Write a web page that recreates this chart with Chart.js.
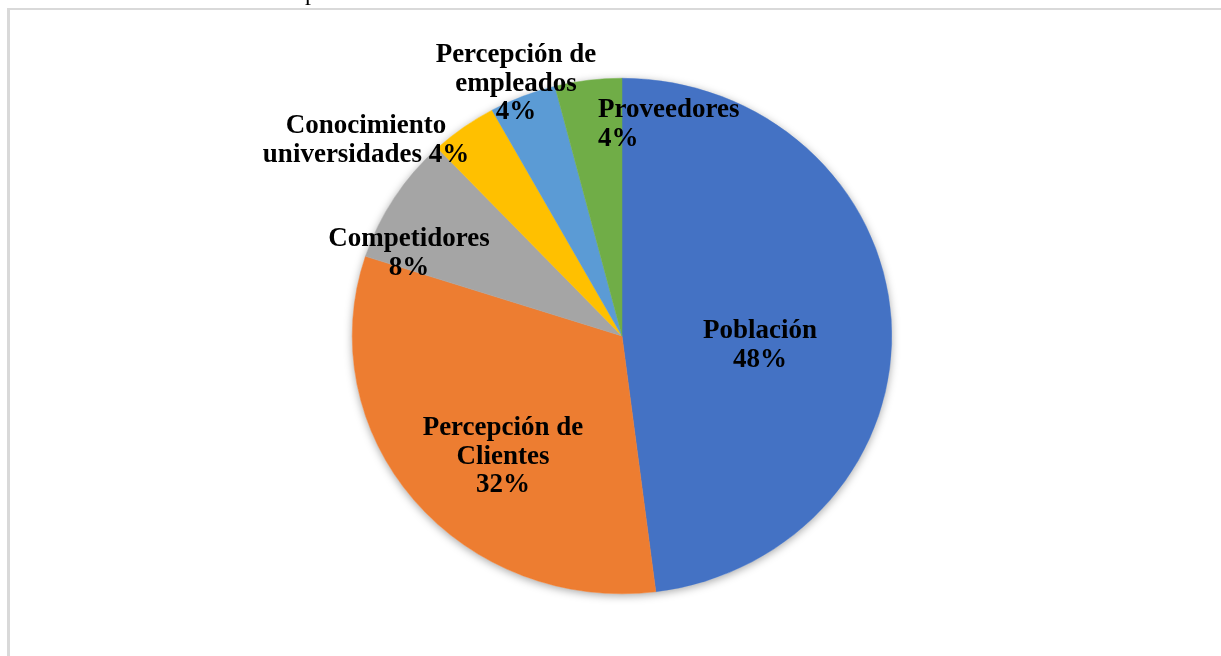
<!DOCTYPE html>
<html>
<head>
<meta charset="utf-8">
<title>Pie</title>
<script src="https://cdn.jsdelivr.net/npm/chart.js@4.4.1/dist/chart.umd.min.js"></script>
<style>
  html, body { margin: 0; padding: 0; background: #fff; overflow: hidden; }
  #frame {
    position: absolute; left: 7px; top: 8px; width: 1300px; height: 700px;
    border-top: 2px solid #d9d9d9; border-left: 3px solid #d9d9d9;
  }
  #pie { position: absolute; left: 0; top: 0; }
</style>
</head>
<body>
<div id="frame"></div>
<canvas id="pie" width="1221" height="656"></canvas>
<script>
// ---------------- data ----------------
const categories = ['Población', 'Percepción de Clientes', 'Competidores', 'Conocimiento universidades', 'Percepción de empleados', 'Proveedores'];
const shares = [48, 32, 8, 4, 4, 4];
const sliceColors = ['#4472C4', '#ED7D31', '#A5A5A5', '#FFC000', '#5B9BD5', '#70AD47'];

// how each label is broken into lines (percent goes on its own line unless pctInline)
const labelBreaks = [['Población'], ['Percepción de', 'Clientes'], ['Competidores'], ['Conocimiento', 'universidades'], ['Percepción de', 'empleados'], ['Proveedores']];
const pctInline = [false, false, false, true, false, false];

// label placement relative to pie centre (first baseline), like the excel layout
const labelLayout = [
    { dx: 138, dy: 2, align: 'center' },
    { dx: -119, dy: 99, align: 'center' },
    { dx: -213, dy: -90, align: 'center' },
    { dx: -256, dy: -203, align: 'center' },
    { dx: -106, dy: -274, align: 'center' },
    { dx: -24, dy: -219, align: 'left' }
];

const stretchX = 270 / 258; // the original pie is a bit wider than tall
const lineGap = 28.5;

function labelLines(i) {
    const lines = labelBreaks[i].slice();
    const pct = shares[i] + '%';
    if (pctInline[i]) lines[lines.length - 1] += ' ' + pct;
    else lines.push(pct);
    return lines;
}

// shadow + horizontal stretch + labels
const ovalPlugin = {
    id: 'oval',
    beforeDatasetsDraw(chart) {
        const arc = chart.getDatasetMeta(0).data[0];
        const ctx = chart.ctx;
        const cx = arc.x, cy = arc.y, r = arc.outerRadius;
        ctx.save();
        ctx.shadowColor = 'rgba(0, 0, 0, 0.35)';
        ctx.shadowBlur = 9;
        ctx.shadowOffsetY = 2;
        ctx.fillStyle = '#fff';
        ctx.beginPath();
        ctx.ellipse(cx, cy, r * stretchX, r, 0, 0, Math.PI * 2);
        ctx.fill();
        ctx.restore();

        ctx.save();
        ctx.translate(cx, cy);
        ctx.scale(stretchX, 1);
        ctx.translate(-cx, -cy);
    },
    afterDatasetsDraw(chart) {
        const ctx = chart.ctx;
        ctx.restore();
        const arc = chart.getDatasetMeta(0).data[0];
        ctx.save();
        ctx.font = 'bold 27px "Liberation Serif", "Times New Roman", serif';
        ctx.fillStyle = '#000';
        ctx.textBaseline = 'alphabetic';
        labelLayout.forEach((pos, i) => {
            ctx.textAlign = pos.align;
            labelLines(i).forEach((line, k) => {
                ctx.fillText(line, arc.x + pos.dx, arc.y + pos.dy + k * lineGap);
            });
        });
        // cut-off text from the page above the figure
        ctx.font = '24px "Liberation Serif", serif';
        ctx.textAlign = 'left';
        ctx.fillText('p', 305, 0);
        ctx.restore();
    }
};

const pieChart = new Chart(document.getElementById('pie').getContext('2d'), {
    type: 'pie',
    data: {
        labels: categories,
        datasets: [{
            data: shares,
            backgroundColor: sliceColors,
            borderColor: sliceColors,
            borderWidth: 0.5,
            clip: false
        }]
    },
    options: {
        responsive: false,
        animation: false,
        layout: { padding: { left: 352, right: 329, top: 78, bottom: 62 } },
        plugins: {
            legend: { display: false },
            tooltip: { enabled: false }
        }
    },
    plugins: [ovalPlugin]
});
</script>
</body>
</html>
